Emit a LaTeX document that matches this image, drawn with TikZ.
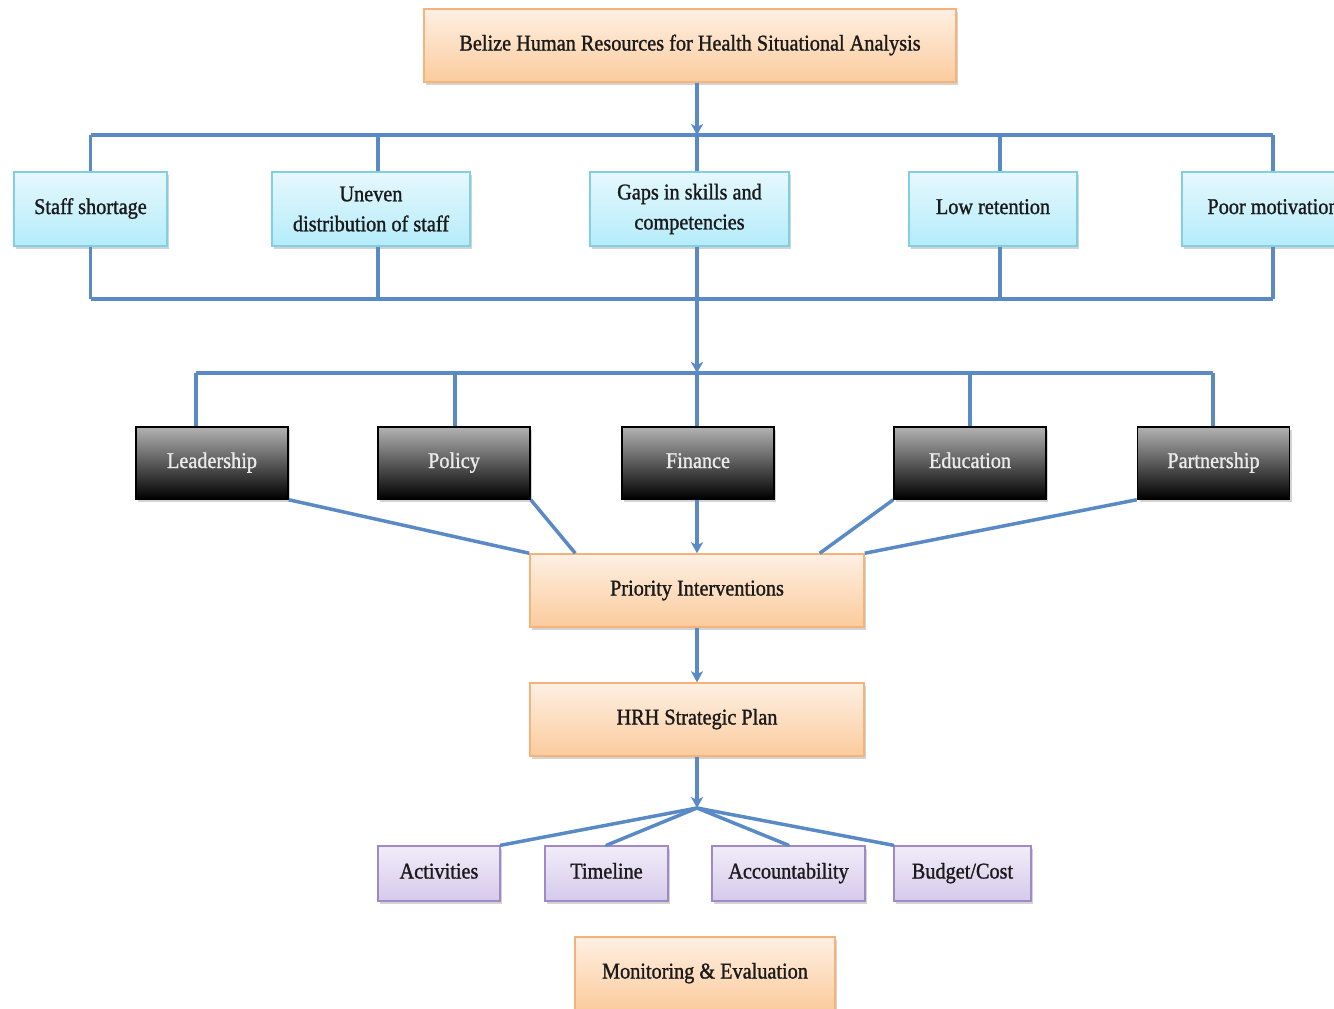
\documentclass[tikz,border=0pt]{standalone}
\usepackage{fontspec}
\setmainfont{Liberation Serif}[FakeStretch=0.9, FakeBold=1.2]
\usetikzlibrary{arrows.meta,shadows}
\definecolor{lnblue}{HTML}{5A8AC6}
\definecolor{orTop}{HTML}{FEF0E4}
\definecolor{orBot}{HTML}{FBCB9C}
\definecolor{orBd}{HTML}{F5B27A}
\definecolor{cyTop}{HTML}{E6F8FD}
\definecolor{cyBot}{HTML}{B4ECFA}
\definecolor{cyBd}{HTML}{80CFE3}
\definecolor{puTop}{HTML}{F1ECF8}
\definecolor{puBot}{HTML}{D6CAEB}
\definecolor{puBd}{HTML}{9F89C6}
\definecolor{txt}{HTML}{1A1A1A}
\tikzset{
  box/.style={draw, line width=1.5pt, inner sep=2pt, align=center, text=txt,
    font=\fontsize{22.5}{30}\selectfont,
    drop shadow={opacity=0.35, shadow xshift=2pt, shadow yshift=-3pt}},
  one/.style={text height=15pt, text depth=5pt},
  orbox/.style={box, one, draw=orBd, top color=orTop, bottom color=orBot},
  cybox/.style={box, draw=cyBd, top color=cyTop, bottom color=cyBot, minimum height=74pt},
  dkbox/.style={box, one, draw=black, top color=black!30, bottom color=black, text=white!92!black,
    minimum width=152pt, minimum height=72pt},
  pubox/.style={box, one, draw=puBd, top color=puTop, bottom color=puBot, minimum height=55pt},
  ln/.style={draw=lnblue, line width=3.5pt},
  arr/.style={ln, -{Stealth[length=11pt,width=12pt,inset=3pt]}}
}
\begin{document}
\begin{tikzpicture}[x=1pt,y=-1pt]
\useasboundingbox (0,0) rectangle (1334,1009);
\clip (0,0) rectangle (1334,1009);
% nodes
\node[orbox, minimum width=532pt, minimum height=73pt] (top) at (690,45.5) {Belize Human Resources for Health Situational Analysis};

\node[cybox, one, minimum width=153pt] (ss) at (90.5,209) {Staff shortage};
\node[cybox, minimum width=198pt] (ud) at (371,209) {Uneven\\distribution of staff};
\node[cybox, minimum width=199pt] (gs) at (689.5,209) {Gaps in skills and\\competencies};
\node[cybox, one, minimum width=168pt] (lr) at (993,209) {Low retention};
\node[cybox, one, minimum width=182pt] (pm) at (1273,209) {Poor motivation};

\node[dkbox] (lead) at (212,463) {Leadership};
\node[dkbox] (pol) at (454,463) {Policy};
\node[dkbox] (fin) at (698,463) {Finance};
\node[dkbox] (edu) at (970,463) {Education};
\node[dkbox] (par) at (1213.5,463) {Partnership};

\node[orbox, minimum width=334pt, minimum height=73pt] (pi) at (697,590.5) {Priority Interventions};
\node[orbox, minimum width=334pt, minimum height=73pt] (hrh) at (697,719.5) {HRH Strategic Plan};

\node[pubox, minimum width=122pt] (act) at (439,873.5) {Activities};
\node[pubox, minimum width=123pt] (tim) at (606.5,873.5) {Timeline};
\node[pubox, minimum width=153pt] (acc) at (788.5,873.5) {Accountability};
\node[pubox, minimum width=137pt] (bud) at (962.5,873.5) {Budget/Cost};

\node[orbox, minimum width=260pt, minimum height=73pt] (me) at (705,973.5) {Monitoring \& Evaluation};

% coordinates
\coordinate (b1) at (697,135);
\coordinate (b2) at (697,299);
\coordinate (b3) at (697,373);
\coordinate (hub) at (697,808);

% top bus
\draw[arr] (top.south -| b1) -- (b1);
\draw[ln] (ss.north |- b1) -- ([xshift=-0.5pt]pm.north |- b1);
\draw[ln] (ss.north) -- (ss.north |- b1);
\draw[ln] ([xshift=7pt]ud.north) -- ([xshift=7pt]ud.north |- b1);
\draw[ln] (gs.north -| b1) -- (b1);
\draw[ln] ([xshift=7pt]lr.north) -- ([xshift=7pt]lr.north |- b1);
\draw[ln] (pm.north) -- (pm.north |- b1);
% bottom bus
\draw[ln] (ss.south |- b2) -- (pm.south |- b2);
\draw[ln] (ss.south) -- (ss.south |- b2);
\draw[ln] ([xshift=7pt]ud.south) -- ([xshift=7pt]ud.south |- b2);
\draw[ln] ([xshift=7pt]lr.south) -- ([xshift=7pt]lr.south |- b2);
\draw[ln] (pm.south) -- (pm.south |- b2);
\draw[arr] (gs.south -| b1) -- (b3);
% second bus
\draw[ln] ([xshift=-16pt]lead.north |- b3) -- ([xshift=-0.5pt]par.north |- b3);
\draw[ln] ([xshift=-16pt]lead.north) -- ([xshift=-16pt]lead.north |- b3);
\draw[ln] ([xshift=1pt]pol.north) -- ([xshift=1pt]pol.north |- b3);
\draw[ln] (fin.north -| b3) -- (b3);
\draw[ln] (edu.north) -- (edu.north |- b3);
\draw[ln] ([xshift=-0.5pt]par.north) -- ([xshift=-0.5pt]par.north |- b3);
% to priority interventions
\draw[ln] (lead.south east) -- (pi.north west);
\draw[ln] (pol.south east) -- ([xshift=46pt]pi.north west);
\draw[arr] (fin.south -| pi.north) -- (pi.north);
\draw[ln] (edu.south west) -- ([xshift=-45pt]pi.north east);
\draw[ln] (par.south west) -- (pi.north east);
% down
\draw[arr] (pi.south) -- (hrh.north);
\draw[arr] (hrh.south) -- (hub);
\draw[ln, line cap=round] (hub) -- (act.north east);
\draw[ln, line cap=round] (hub) -- (tim.north);
\draw[ln, line cap=round] (hub) -- (acc.north);
\draw[ln, line cap=round] (hub) -- (bud.north west);
\end{tikzpicture}
\end{document}
